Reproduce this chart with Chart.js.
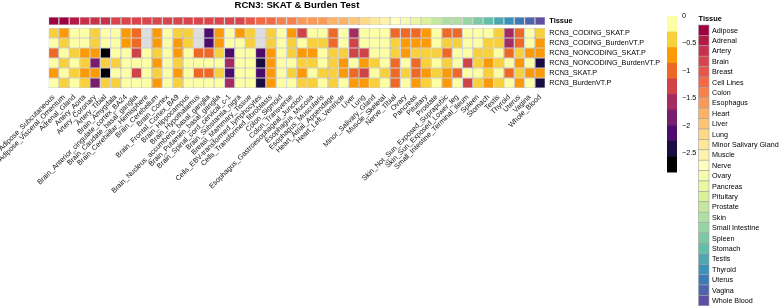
<!DOCTYPE html>
<html>
<head>
<meta charset="utf-8">
<script src="https://cdn.jsdelivr.net/npm/chart.js@4.4.1/dist/chart.umd.min.js"></script>
<style>
  html, body { margin: 0; padding: 0; background: #fff; }
</style>
</head>
<body>
<canvas id="hm" width="780" height="306"></canvas>
<script>
// ---- data ----
const tissues = [
  'Adipose_Subcutaneous', 'Adipose_Visceral_Omentum', 'Adrenal_Gland', 'Artery_Aorta',
  'Artery_Coronary', 'Artery_Tibial', 'Brain_Amygdala', 'Brain_Anterior_cingulate_cortex_BA24',
  'Brain_Caudate_basal_ganglia', 'Brain_Cerebellar_Hemisphere', 'Brain_Cerebellum', 'Brain_Cortex',
  'Brain_Frontal_Cortex_BA9', 'Brain_Hippocampus', 'Brain_Hypothalamus', 'Brain_Nucleus_accumbens_basal_ganglia',
  'Brain_Putamen_basal_ganglia', 'Brain_Spinal_cord_cervical_c-1', 'Brain_Substantia_nigra', 'Breast_Mammary_Tissue',
  'Cells_EBV-transformed_lymphocytes', 'Cells_Transformed_fibroblasts', 'Colon_Sigmoid', 'Colon_Transverse',
  'Esophagus_Gastroesophageal_Junction', 'Esophagus_Mucosa', 'Esophagus_Muscularis', 'Heart_Atrial_Appendage',
  'Heart_Left_Ventricle', 'Liver', 'Lung', 'Minor_Salivary_Gland',
  'Muscle_Skeletal', 'Nerve_Tibial', 'Ovary', 'Pancreas',
  'Pituitary', 'Prostate', 'Skin_Not_Sun_Exposed_Suprapubic', 'Skin_Sun_Exposed_Lower_leg',
  'Small_Intestine_Terminal_Ileum', 'Spleen', 'Stomach', 'Testis',
  'Thyroid', 'Uterus', 'Vagina', 'Whole_Blood'
];

const tissueGroups = [
  'Adipose', 'Adrenal', 'Artery', 'Brain', 'Breast', 'Cell Lines', 'Colon', 'Esophagus', 'Heart',
  'Liver', 'Lung', 'Minor Salivary Gland', 'Muscle', 'Nerve', 'Ovary', 'Pancreas', 'Pituitary',
  'Prostate', 'Skin', 'Small Intestine', 'Spleen', 'Stomach', 'Testis', 'Thyroid', 'Uterus',
  'Vagina', 'Whole Blood'
];

const tissueGroupOf = [
  'Adipose', 'Adipose', 'Adrenal', 'Artery', 'Artery', 'Artery',
  'Brain', 'Brain', 'Brain', 'Brain', 'Brain', 'Brain', 'Brain', 'Brain', 'Brain', 'Brain', 'Brain', 'Brain', 'Brain',
  'Breast', 'Cell Lines', 'Cell Lines', 'Colon', 'Colon', 'Esophagus', 'Esophagus', 'Esophagus',
  'Heart', 'Heart', 'Liver', 'Lung', 'Minor Salivary Gland', 'Muscle', 'Nerve', 'Ovary', 'Pancreas',
  'Pituitary', 'Prostate', 'Skin', 'Skin', 'Small Intestine', 'Spleen', 'Stomach', 'Testis',
  'Thyroid', 'Uterus', 'Vagina', 'Whole Blood'
];

const rowNames = [
  'RCN3_CODING_SKAT.P', 'RCN3_CODING_BurdenVT.P', 'RCN3_NONCODING_SKAT.P',
  'RCN3_NONCODING_BurdenVT.P', 'RCN3_SKAT.P', 'RCN3_BurdenVT.P'
];

// log10 p-values, null = not tested
const codingSkat = [-0.41, -0.66, -0.12, -0.09, -0.37, -0.15, -0.2, -0.7, -0.96, null, -0.63, -0.11,
  -0.44, -0.35, null, -2.1, -0.74, -0.14, -0.68, -0.39, null, -0.46, -0.1, -0.72,
  -1.24, -0.17, -0.08, -0.98, -0.13, -1.57, -0.21, -0.06, -0.16, -0.93, -1.01, -0.91,
  -0.69, -0.12, -0.95, -1.03, -0.19, -0.07, -0.14, -0.4, -1.6, -0.97, -0.11, -0.42];
const codingBurden = [-0.18, -0.36, -0.1, -0.13, -0.43, -0.07, -0.16, -0.71, -0.94, null, -0.65, -0.12,
  -0.62, -0.47, null, -2.08, -0.67, -0.2, -0.09, -0.38, null, -0.41, -0.14, -0.44,
  -0.11, -0.34, -0.49, -0.92, -0.15, -1.2, -0.08, -0.17, -0.13, -0.45, -0.7, -0.64,
  -0.76, -0.1, -0.39, -0.48, -0.19, -0.06, -0.37, -0.42, -1.52, -1.0, -0.12, -0.66];
const noncodingSkat = [-0.99, -0.14, -0.46, -0.63, -0.75, -2.81, -0.1, -0.18, -1.27, -0.07, -0.4, -0.12,
  -0.69, -0.16, -0.9, -1.04, -0.36, -2.15, -0.11, -0.2, -2.05, -0.71, -0.13, -0.44,
  -0.66, -0.6, -0.09, -0.38, -0.47, -1.33, -1.25, -0.15, -0.08, -0.42, -0.73, -0.35,
  -0.4, -0.5, -0.96, -0.17, -0.12, -0.37, -0.45, -0.1, -1.02, -0.43, -0.68, -0.62];
const noncodingBurden = [-0.09, -0.39, -0.16, -0.45, -1.84, -0.36, -0.48, -0.12, -0.19, -0.06, -0.64, -0.14,
  -0.41, -0.1, -0.17, -0.08, -0.21, -1.58, -0.13, -0.05, -2.44, -0.7, -0.15, -0.11,
  -0.38, -0.46, -0.18, -0.34, -0.67, -0.12, -0.74, -0.43, -0.09, -0.95, -0.16, -1.05,
  -0.39, -0.13, -0.47, -0.07, -1.22, -0.35, -0.65, -0.44, -0.2, -0.72, -0.1, -2.47];
const skat = [-0.7, -0.12, -0.42, -0.66, -0.77, -2.84, -0.15, -0.08, -1.23, -0.19, -0.37, -0.11,
  -0.63, -0.14, -0.93, -1.0, -0.44, -2.11, -0.17, -0.1, -2.02, -0.68, -0.06, -0.4,
  -0.72, -0.13, -0.46, -0.35, -0.61, -1.07, -1.29, -0.16, -0.39, -0.97, -0.45, -0.92,
  -0.67, -0.38, -0.74, -1.01, -0.14, -0.09, -0.43, -0.2, -0.94, -0.41, -0.65, -0.71];
const burdenVT = [-0.11, -0.44, -0.07, -0.37, -1.8, -0.49, -0.4, -0.15, -0.1, -0.18, -0.68, -0.13,
  -0.36, -0.2, -0.09, -0.14, -0.06, -1.62, -0.16, -0.12, -2.39, -0.73, -0.19, -0.08,
  -0.45, -0.41, -0.11, -0.47, -0.14, -0.62, -0.69, -0.38, -0.17, -0.99, -0.1, -0.75,
  -0.42, -0.05, -0.64, -0.13, -1.26, -0.39, -0.7, -0.46, -0.12, -0.66, -0.15, -2.45];

const colorTicks = [0, -0.5, -1, -1.5, -2, -2.5];
const scaleMin = -2.836;

// ---- colours ----
const inferno = ['#FCFFA4', '#F7D03C', '#FB9A06', '#ED6925', '#CF4446',
                 '#A52C60', '#781C6D', '#4B0C6B', '#1B0C42', '#000004'];
const binSize = -scaleMin / inferno.length;
const naColor = '#DDDDDD';
const gridColor = '#a3a3a3';

function valueColor(v) {
  if (v === null) return naColor;
  let b = Math.floor(-v / binSize);
  if (b < 0) b = 0;
  if (b > inferno.length - 1) b = inferno.length - 1;
  return inferno[b];
}

const spectral = ['#9E0142', '#D53E4F', '#F46D43', '#FDAE61', '#FEE08B', '#FFFFBF',
                  '#E6F598', '#ABDDA4', '#66C2A5', '#3288BD', '#5E4FA2'];
function hex2rgb(h) { return [1, 3, 5].map(i => parseInt(h.substr(i, 2), 16)); }
function groupColor(i) {
  const t = i / (tissueGroups.length - 1) * (spectral.length - 1);
  const k = Math.min(Math.floor(t), spectral.length - 2);
  const f = t - k;
  const a = hex2rgb(spectral[k]), b = hex2rgb(spectral[k + 1]);
  const c = a.map((x, j) => Math.round(x + (b[j] - x) * f));
  return 'rgb(' + c.join(',') + ')';
}
const groupColors = tissueGroups.map((g, i) => groupColor(i));

const FONT = "'Liberation Sans', Arial, sans-serif";

// rows drawn bottom to top
const rowsBottomUp = [burdenVT, skat, noncodingBurden, noncodingSkat, codingBurden, codingSkat];
const annTop = 7.1, annBottom = 6.3;

const datasets = rowsBottomUp.map((vals, i) => ({
  label: rowNames[rowNames.length - 1 - i],
  data: tissues.map(() => [i, i + 1]),
  backgroundColor: vals.map(valueColor),
  borderColor: gridColor,
  borderWidth: 0.6,
  borderSkipped: false,
  inflateAmount: 0,
  grouped: false,
  barPercentage: 1,
  categoryPercentage: 1
}));
datasets.push({
  label: 'Tissue',
  data: tissues.map(() => [annBottom, annTop]),
  backgroundColor: tissueGroupOf.map(g => groupColors[tissueGroups.indexOf(g)]),
  borderColor: gridColor,
  borderWidth: 0.6,
  borderSkipped: false,
  inflateAmount: 0,
  grouped: false,
  barPercentage: 1,
  categoryPercentage: 1
});

const yLabels = rowNames.slice().reverse().concat(['Tissue']);
const yTickVals = [0.5, 1.5, 2.5, 3.5, 4.5, 5.5, (annBottom + annTop) / 2];

// colour bar + tissue legend on the right
const sideLegends = {
  id: 'sideLegends',
  afterDraw(chart) {
    const ctx = chart.ctx;
    ctx.save();
    const cbX = 667, cbW = 10, cbTop = 16, pxPerUnit = 55;
    inferno.forEach((c, b) => {
      ctx.fillStyle = c;
      ctx.fillRect(cbX, cbTop + b * binSize * pxPerUnit, cbW, binSize * pxPerUnit + 0.5);
    });
    ctx.fillStyle = '#000';
    ctx.font = '7.2px ' + FONT;
    ctx.textBaseline = 'middle';
    ctx.textAlign = 'left';
    colorTicks.forEach(v => {
      const txt = v === 0 ? '0' : '\u2212' + Math.abs(v);
      ctx.fillText(txt, cbX + 15, cbTop - v * pxPerUnit);
    });

    const lx = 698.5, ly = 25, bw = 10.5, bh = 10.4;
    ctx.font = 'bold 7.4px ' + FONT;
    ctx.fillText('Tissue', lx, 19);
    ctx.font = '7.2px ' + FONT;
    tissueGroups.forEach((g, i) => {
      const y = ly + i * bh;
      ctx.fillStyle = groupColors[i];
      ctx.fillRect(lx, y, bw, bh);
      ctx.strokeStyle = gridColor;
      ctx.lineWidth = 0.6;
      ctx.strokeRect(lx, y, bw, bh);
      ctx.fillStyle = '#000';
      ctx.fillText(g, lx + bw + 3, y + bh / 2 + 0.5);
    });
    ctx.restore();
  }
};

new Chart(document.getElementById('hm'), {
  type: 'bar',
  data: { labels: tissues, datasets: datasets },
  plugins: [sideLegends],
  options: {
    responsive: false,
    animation: false,
    layout: { padding: { left: 48.5, right: 0, top: 0, bottom: 0 } },
    plugins: {
      legend: { display: false },
      tooltip: { enabled: false },
      title: {
        display: true,
        text: 'RCN3: SKAT & Burden Test',
        fullSize: false,
        color: '#000',
        font: { family: FONT, size: 9.6, weight: 'bold' },
        padding: { top: 0, bottom: 5.5 }
      }
    },
    scales: {
      x: {
        type: 'category',
        offset: true,
        grid: { display: false, drawTicks: false },
        border: { display: false },
        ticks: {
          autoSkip: false,
          maxRotation: 45,
          minRotation: 45,
          padding: 5,
          color: '#111',
          font: { family: FONT, size: 7.2 }
        },
        afterFit(scale) {
          scale.height = 306 - 88;
          scale.paddingLeft = 0;
          scale.paddingRight = 0;
        }
      },
      y: {
        type: 'linear',
        position: 'right',
        min: 0,
        max: annTop,
        grid: { display: false, drawTicks: false },
        border: { display: false },
        afterBuildTicks(scale) {
          scale.ticks = yTickVals.map(v => ({ value: v }));
        },
        ticks: {
          autoSkip: false,
          padding: 4,
          color: '#000',
          callback: (v, i) => yLabels[i],
          font: ctx => ({ family: FONT, size: ctx.index === 6 ? 7.4 : 7.2, weight: ctx.index === 6 ? 'bold' : 'normal' })
        },
        afterFit(scale) {
          scale.width = 780 - 545.3;
        }
      }
    }
  }
});
</script>
</body>
</html>
